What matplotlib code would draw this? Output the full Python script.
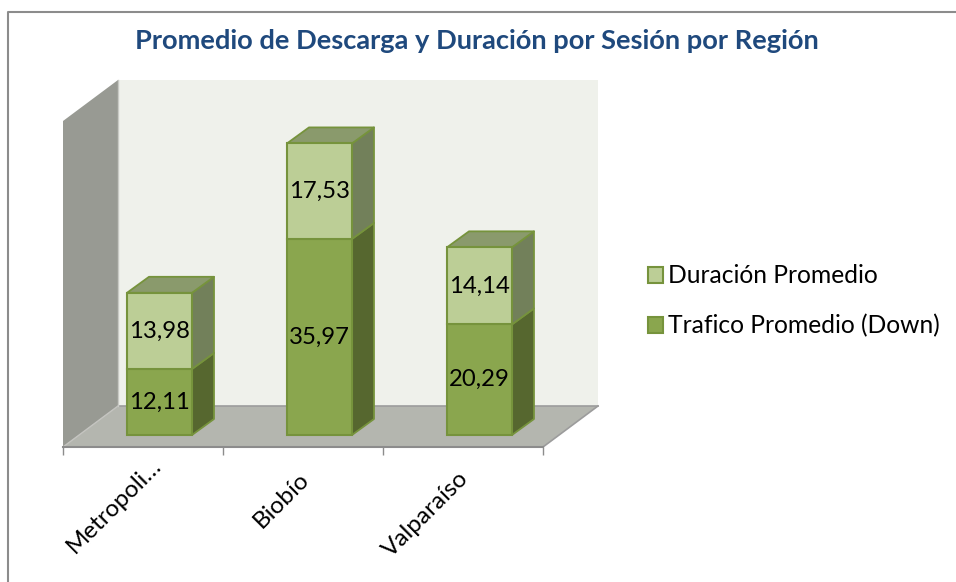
import matplotlib
matplotlib.use("Agg")
import matplotlib.pyplot as plt
from matplotlib.lines import Line2D
from matplotlib.patches import Patch
import numpy as np

plt.rcParams['font.family'] = ['Lato', 'DejaVu Sans']

categories = ["Metropoli…", "Biobío", "Valparaíso"]
trafico = [12.11, 35.97, 20.29]
duracion = [13.98, 17.53, 14.14]
series_names = ["Trafico Promedio (Down)", "Duración Promedio"]
title = "Promedio de Descarga y Duración por Sesión por Región"
label_offsets_x_px = [22, 10, 10]
label_offsets_y_px = [-8, -21, -21]

W, H = 956, 582
PX_X = 160.0
PX_Y = 5.45
X0 = 159.5
Y0 = 435.0

fig = plt.figure(figsize=(W / 100, H / 100), dpi=100, facecolor='white')
fig.add_artist(Line2D([7.5 / W, 7.5 / W, 1], [0, 1 - 11.5 / H, 1 - 11.5 / H], transform=fig.transFigure,
                      color='#8c8c8c', linewidth=1.5))

L, R, T, B = 63, 543, 80, 447
ax = fig.add_axes([L / W, 1 - B / H, (R - L) / W, (B - T) / H])
ax.patch.set_visible(False)
xfrom = lambda p: (p - X0) / PX_X
yfrom = lambda p: (Y0 - p) / PX_Y
ax.set_xlim(xfrom(L), xfrom(R))
ax.set_ylim(yfrom(B), yfrom(T))

xl, xr = xfrom(L), xfrom(R)
xl2, xr2 = xfrom(L + 55), xfrom(R + 55)
yb, yt = yfrom(B), yfrom(T)
yb2 = yfrom(B - 41)
yt1 = yfrom(T + 41)
ax.fill([xl2, xr2, xr2, xl2], [yb2, yb2, yt, yt], color='#EFF1EB', lw=0, clip_on=False, zorder=1)
ax.fill([xl, xl2, xl2, xl], [yb, yb2, yt, yt1], color='#989A93', lw=0, clip_on=False, zorder=1)
ax.fill([xl, xr, xr2, xl2], [yb, yb, yb2, yb2], color='#B4B6AF', lw=0, clip_on=False, zorder=1)
ax.plot([xl2, xr2], [yb2, yb2], color='#9c9c9c', lw=1.2, clip_on=False, zorder=2)
ax.plot([xr, xr2], [yb, yb2], color='#9c9c9c', lw=1.2, clip_on=False, zorder=2)
ax.plot([xl, xl2], [yb, yb2], color='#c4c4c0', lw=1.0, clip_on=False, zorder=2)
ax.plot([xl2, xl2], [yb2, yt], color='#c8c9c4', lw=1.0, clip_on=False, zorder=2)

x = np.arange(len(categories))
bw = 65 / PX_X
dx, dy = 22 / PX_X, 16 / PX_Y
EDGE = '#76933C'
segments = [
    (np.zeros(3), np.array(trafico), '#8AA64E', '#56672F', None),
    (np.array(trafico), np.array(duracion), '#BCCE96', '#72805A', '#8A9A6C'),
]
for bottom, vals, front, side, top in segments:
    for xi, b, v in zip(x, bottom, vals):
        xe = xi + bw / 2
        ax.fill([xe, xe + dx, xe + dx, xe], [b, b + dy, b + v + dy, b + v],
                facecolor=side, edgecolor=EDGE, lw=1.3, joinstyle='round', clip_on=False, zorder=3)
        if top:
            xs = xi - bw / 2
            ax.fill([xs, xe, xe + dx, xs + dx], [b + v, b + v, b + v + dy, b + v + dy],
                    facecolor=top, edgecolor=EDGE, lw=1.3, joinstyle='round', clip_on=False, zorder=3)
    ax.bar(x, vals, width=bw, bottom=bottom, color=front, edgecolor=EDGE, linewidth=1.5, zorder=4)
    for xi, b, v in zip(x, bottom, vals):
        ax.text(xi, b + v / 2, f"{v:.2f}".replace('.', ','), ha='center', va='center',
                fontsize=17.2, color='black', zorder=5)

for s in ('top', 'left', 'right'):
    ax.spines[s].set_visible(False)
ax.spines['bottom'].set_color('#8c8c8c')
ax.spines['bottom'].set_linewidth(1.5)
ax.spines['bottom'].set_zorder(3)
ax.set_yticks([])
ax.set_xticks(np.arange(len(categories) + 1) - 0.603)
ax.tick_params(axis='x', length=5.5, width=1.0, color='#8c8c8c', labelbottom=False)
for xi, name, ox, oy in zip(x, categories, label_offsets_x_px, label_offsets_y_px):
    cx = xi - 16.5 / PX_X
    ax.annotate(name, xy=(cx, 0), xycoords=ax.get_xaxis_transform(),
                xytext=(ox * 0.72, oy * 0.72), textcoords='offset points',
                rotation=45, ha='right', va='top', fontsize=17.5, color='black')

handles = [Patch(facecolor='#BCCE96', edgecolor=EDGE, linewidth=1.5),
           Patch(facecolor='#8AA64E', edgecolor=EDGE, linewidth=1.5)]
F = 17.7
fpx = F * 100 / 72
fig.legend(handles, [series_names[1], series_names[0]], loc='center left',
           bbox_to_anchor=(647.5 / W, 1 - 301 / H), frameon=False, fontsize=F,
           handlelength=15 / fpx, handleheight=15 / fpx, handletextpad=6 / fpx,
           labelspacing=(51.5 - fpx) / fpx, borderpad=0, borderaxespad=0, labelcolor='black')

fig.suptitle(title, x=477 / W, y=1 - 41 / H, va='center', ha='center',
             fontsize=19.6, fontweight='bold', color='#1F497D')

fig.savefig('out.png', dpi=100)
